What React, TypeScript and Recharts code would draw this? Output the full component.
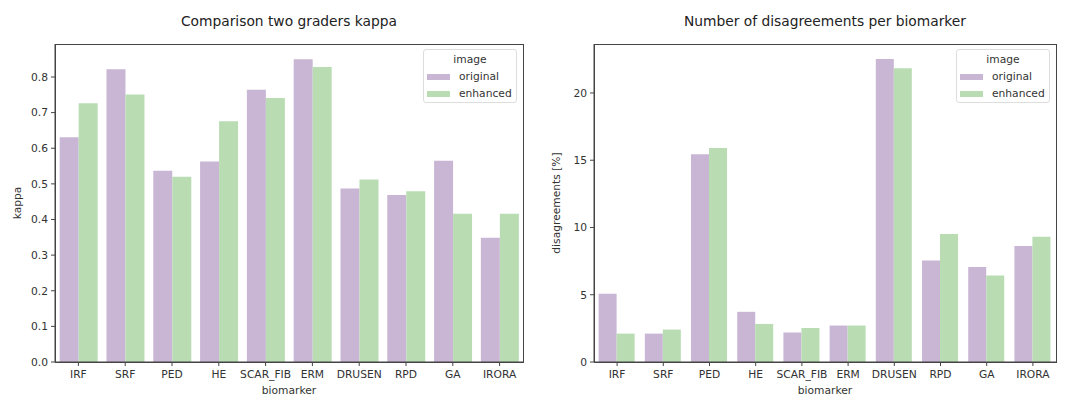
import { Bar, BarChart, Label, XAxis, YAxis } from 'recharts';

const biomarkers = ['IRF', 'SRF', 'PED', 'HE', 'SCAR_FIB', 'ERM', 'DRUSEN', 'RPD', 'GA', 'IRORA'];

const kappaOriginal = [0.631, 0.822, 0.537, 0.563, 0.764, 0.85, 0.487, 0.469, 0.565, 0.349];
const kappaEnhanced = [0.726, 0.751, 0.52, 0.676, 0.741, 0.828, 0.512, 0.479, 0.416, 0.416];

const disagreeOriginal = [5.07, 2.11, 15.45, 3.73, 2.19, 2.71, 22.53, 7.55, 7.06, 8.62];
const disagreeEnhanced = [2.11, 2.41, 15.9, 2.83, 2.53, 2.71, 21.84, 9.52, 6.43, 9.32];

const kappaTicks = [0, 0.1, 0.2, 0.3, 0.4, 0.5, 0.6, 0.7, 0.8];
const disagreeTicks = [0, 5, 10, 15, 20];

const PURPLE = '#c9b6d5';
const GREEN = '#b9dcb3';
const AXIS = '#444';
const FONT = '"DejaVu Sans", sans-serif';

const kappaData = biomarkers.map((b, i) => ({
  biomarker: b,
  original: kappaOriginal[i],
  enhanced: kappaEnhanced[i],
}));

const disagreeData = biomarkers.map((b, i) => ({
  biomarker: b,
  original: disagreeOriginal[i],
  enhanced: disagreeEnhanced[i],
}));

// legend drawn as an overlay so it doesn't eat plot width
function LegendBox({ left, top }: { left: number; top: number }) {
  const row = (color: string, text: string) => (
    <div style={{ display: 'flex', alignItems: 'center', height: 17 }}>
      <span style={{ width: 23, height: 6, background: color, marginLeft: 3, marginRight: 9 }} />
      <span>{text}</span>
    </div>
  );
  return (
    <div
      style={{
        position: 'absolute',
        left,
        top,
        width: 94,
        height: 54,
        border: '1px solid #ddd',
        borderRadius: 3,
        background: 'rgba(255,255,255,0.85)',
        fontFamily: FONT,
        fontSize: 10.7,
        color: '#333',
        boxSizing: 'border-box',
        paddingTop: 2,
        zIndex: 2,
      }}
    >
      <div style={{ textAlign: 'center', height: 16, lineHeight: '16px' }}>image</div>
      {row(PURPLE, 'original')}
      {row(GREEN, 'enhanced')}
    </div>
  );
}

type PanelProps = {
  data: any[];
  ticks: number[];
  max: number;
  yLabel: string;
  yLabelDx: number;
  fmt: (v: number) => string;
  width: number;
  marginLeft: number;
  marginRight: number;
};

function Panel({ data, ticks, max, yLabel, yLabelDx, fmt, width, marginLeft, marginRight }: PanelProps) {
  return (
    <BarChart
      width={width}
      height={396}
      data={data}
      barCategoryGap="10%"
      barGap={0}
      margin={{ top: 44, right: marginRight, bottom: 0, left: marginLeft }}
      style={{ fontFamily: FONT }}
    >
      <XAxis
        dataKey="biomarker"
        height={34}
        tickSize={4}
        tickMargin={4}
        interval={0}
        stroke={AXIS}
        tick={{ fill: '#333', fontSize: 10.7 }}
      >
        <Label value="biomarker" position="insideBottom" offset={2} style={{ fill: '#333', fontSize: 10.7 }} />
      </XAxis>
      <YAxis
        type="number"
        width={40}
        domain={[0, max]}
        ticks={ticks}
        allowDataOverflow
        tickSize={4}
        tickMargin={3}
        stroke={AXIS}
        tickFormatter={fmt}
        tick={{ fill: '#333', fontSize: 10.7 }}
      >
        <Label
          value={yLabel}
          angle={-90}
          position="center"
          dx={yLabelDx}
          style={{ fill: '#333', fontSize: 10.7, textAnchor: 'middle' }}
        />
      </YAxis>
      <Bar dataKey="original" fill={PURPLE} isAnimationActive={false} />
      <Bar dataKey="enhanced" fill={GREEN} isAnimationActive={false} />
    </BarChart>
  );
}

export default function App() {
  const titleStyle = (left: number, width: number): React.CSSProperties => ({
    position: 'absolute',
    left,
    width,
    top: 12,
    textAlign: 'center',
    fontFamily: FONT,
    fontSize: 13.8,
    color: '#222',
    lineHeight: '18px',
  });
  const frame = (left: number, width: number): React.CSSProperties => ({
    position: 'absolute',
    left,
    top: 44,
    width,
    height: 319,
    border: `1px solid ${AXIS}`,
    boxSizing: 'border-box',
    pointerEvents: 'none',
    zIndex: 1,
  });
  return (
    <div style={{ position: 'absolute', left: 0, top: 0, width: 1074, height: 396, background: '#fff' }}>
      <div style={titleStyle(55, 468)}>Comparison two graders kappa</div>
      <div style={titleStyle(594, 462)}>Number of disagreements per biomarker</div>
      <div style={{ position: 'absolute', left: 0, top: 0, width: 540, height: 396 }}>
        <Panel
          data={kappaData}
          ticks={kappaTicks}
          max={0.8926}
          yLabel="kappa"
          yLabelDx={-18}
          fmt={(v) => v.toFixed(1)}
          width={540}
          marginLeft={15}
          marginRight={17}
        />
      </div>
      <div style={{ position: 'absolute', left: 540, top: 0, width: 534, height: 396 }}>
        <Panel
          data={disagreeData}
          ticks={disagreeTicks}
          max={23.64}
          yLabel="disagreements [%]"
          yLabelDx={-18}
          fmt={(v) => String(v)}
          width={534}
          marginLeft={14}
          marginRight={18}
        />
      </div>
      <div style={frame(55, 469)} />
      <div style={frame(594, 463)} />
      <LegendBox left={423} top={49} />
      <LegendBox left={956} top={49} />
    </div>
  );
}
